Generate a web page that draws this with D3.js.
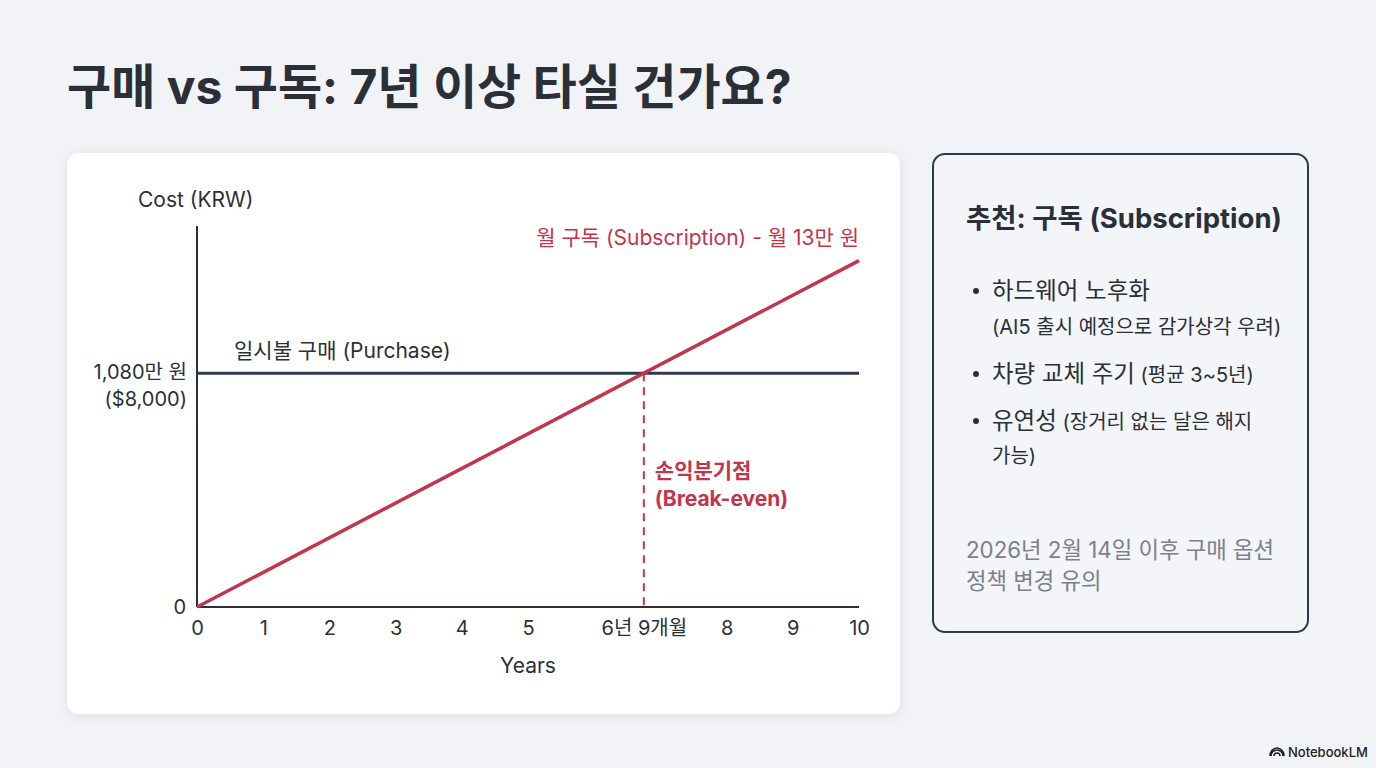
<!DOCTYPE html>
<html>
<head>
<meta charset="utf-8">
<script src="https://cdn.jsdelivr.net/npm/d3@7"></script>
<style>
  html, body { margin: 0; padding: 0; background: #f1f3f6; }
  svg { display: block; font-family: Inter, "Noto Sans CJK KR", sans-serif; }
</style>
</head>
<body>
<script>
// data
const years = [0, 10];
const purchaseCost = [1080, 1080];      // 만 원
const subscriptionCost = [0, 1600];     // 만 원, cumulative
const breakEvenYear = 6.75;
const breakEvenCost = 1080;
const xTicks = [0, 1, 2, 3, 4, 5, 6.75, 8, 9, 10];
const xTickLabels = ["0", "1", "2", "3", "4", "5", "6년 9개월", "8", "9", "10"];
const yTicks = [0, 1080];
const yTickLabels = [["0"], ["1,080만 원", "($8,000)"]];
const bulletMain = ["하드웨어 노후화", "차량 교체 주기", "유연성"];
const bulletSub = ["(AI5 출시 예정으로 감가상각 우려)", "(평균 3~5년)", "(장거리 없는 달은 해지"];
const noteLines = ["2026년 2월 14일 이후 구매 옵션", "정책 변경 유의"];

const W = 1376, H = 768;
const navy = "#2c3a4f", red = "#c3354b", ink = "#2a2f38";

const svg = d3.select("body").append("svg").attr("width", W).attr("height", H);

const defs = svg.append("defs");
const f = defs.append("filter").attr("id", "shadow").attr("x", "-10%").attr("y", "-10%").attr("width", "120%").attr("height", "120%");
f.append("feDropShadow").attr("dx", 0).attr("dy", 2).attr("stdDeviation", 6).attr("flood-color", "#000").attr("flood-opacity", 0.08);

// title
svg.append("text")
  .attr("x", 67).attr("y", 104)
  .attr("font-size", 48).attr("font-weight", 700).attr("fill", ink)
  .text("구매 vs 구독: 7년 이상 타실 건가요?");

// chart card
svg.append("rect")
  .attr("x", 67).attr("y", 153).attr("width", 833).attr("height", 561)
  .attr("rx", 12).attr("fill", "#fff").attr("filter", "url(#shadow)");

// scales
const x = d3.scaleLinear().domain([0, 10]).range([197, 859]);
const y = d3.scaleLinear().domain([0, 1760]).range([607, 226]);

// axes
svg.append("line").attr("x1", x(0)).attr("x2", x(0)).attr("y1", y(0)).attr("y2", y(1760))
  .attr("stroke", ink).attr("stroke-width", 2);
svg.append("line").attr("x1", x(0)).attr("x2", x(10)).attr("y1", y(0)).attr("y2", y(0))
  .attr("stroke", ink).attr("stroke-width", 2);

const xAxis = svg.append("g")
  .attr("transform", `translate(0,${y(0)})`)
  .call(d3.axisBottom(x).tickValues(xTicks).tickSize(0).tickPadding(14)
    .tickFormat((d, i) => xTickLabels[i]));
xAxis.select(".domain").remove();
xAxis.selectAll("text").attr("font-size", 20).attr("fill", ink)
  .attr("font-family", "Inter, 'Noto Sans CJK KR', sans-serif");

// y ticks (two-line labels)
const yt = svg.append("g").selectAll("text").data(yTicks).join("text")
  .attr("x", 187).attr("y", d => y(d))
  .attr("text-anchor", "end").attr("font-size", 20).attr("fill", ink);
yt.each(function(d, i) {
  const lines = yTickLabels[i];
  d3.select(this).selectAll("tspan").data(lines).join("tspan")
    .attr("x", d === 0 ? 186 : 187)
    .attr("dy", (l, j) => j === 0 ? (lines.length > 1 ? "0.3em" : "0.35em") : "1.35em")
    .text(l => l);
});

svg.append("text").attr("x", 138).attr("y", 207).attr("font-size", 21).attr("fill", ink).text("Cost (KRW)");
svg.append("text").attr("x", (x(0) + x(10)) / 2).attr("y", 673).attr("text-anchor", "middle")
  .attr("font-size", 21).attr("fill", ink).text("Years");

// lines
const line = d3.line().x(d => x(d[0])).y(d => y(d[1]));
svg.append("path").datum(d3.zip(years, purchaseCost)).attr("d", line)
  .attr("fill", "none").attr("stroke", navy).attr("stroke-width", 3);

svg.append("line")
  .attr("x1", x(breakEvenYear)).attr("x2", x(breakEvenYear))
  .attr("y1", y(breakEvenCost)).attr("y2", y(0))
  .attr("stroke", red).attr("stroke-width", 2).attr("stroke-dasharray", "8,6");

svg.append("path").datum(d3.zip(years, subscriptionCost)).attr("d", line)
  .attr("fill", "none").attr("stroke", red).attr("stroke-width", 3.5);

// line labels
svg.append("text").attr("x", 234).attr("y", 358).attr("font-size", 21).attr("fill", ink)
  .text("일시불 구매 (Purchase)");
svg.append("text").attr("x", x(10)).attr("y", 245).attr("text-anchor", "end")
  .attr("font-size", 21).attr("fill", red).text("월 구독 (Subscription) - 월 13만 원");
const be = svg.append("text").attr("x", x(breakEvenYear) + 11).attr("y", 478)
  .attr("font-size", 21).attr("font-weight", 700).attr("fill", red);
be.append("tspan").text("손익분기점");
be.append("tspan").attr("x", x(breakEvenYear) + 11).attr("dy", 28).text("(Break-even)");

// right panel
svg.append("rect").attr("x", 933).attr("y", 154).attr("width", 375).attr("height", 478)
  .attr("rx", 12).attr("fill", "#f3f5f8").attr("stroke", navy).attr("stroke-width", 2);

svg.append("text").attr("x", 966).attr("y", 228).attr("font-size", 27.5).attr("font-weight", 700)
  .attr("fill", ink).text("추천: 구독 (Subscription)");

const bulletY = [299, 382, 429];
const sameLine = [false, true, true];
bulletMain.forEach((m, i) => {
  svg.append("circle").attr("cx", 976).attr("cy", bulletY[i] - 8).attr("r", 3).attr("fill", ink);
  const t = svg.append("text").attr("x", 992).attr("y", bulletY[i]).attr("fill", ink);
  t.append("tspan").attr("font-size", 23.5).text(m);
  if (sameLine[i]) {
    t.append("tspan").attr("font-size", 20).text(" " + bulletSub[i]);
  } else {
    t.append("tspan").attr("x", 992).attr("dy", 35).attr("font-size", 20).text(bulletSub[i]);
  }
});
svg.append("text").attr("x", 992).attr("y", 463).attr("font-size", 20).attr("fill", ink).text("가능)");

noteLines.forEach((l, i) => {
  svg.append("text").attr("x", 966).attr("y", 558 + i * 31).attr("font-size", 22.3)
    .attr("fill", "#7b8089").text(l);
});

// footer mark
const logo = svg.append("g").attr("transform", "translate(1271,752)");
logo.append("path").attr("d", "M0,4 a6,6 0 0 1 12,0 M3,4 a3,3 0 0 1 6,0 M-1,4 a7,8 0 0 1 14,0")
  .attr("fill", "none").attr("stroke", "#222").attr("stroke-width", 1.6);
svg.append("text").attr("x", 1288).attr("y", 757).attr("font-size", 13).attr("font-weight", 500)
  .attr("fill", "#222").text("NotebookLM");
</script>
</body>
</html>
